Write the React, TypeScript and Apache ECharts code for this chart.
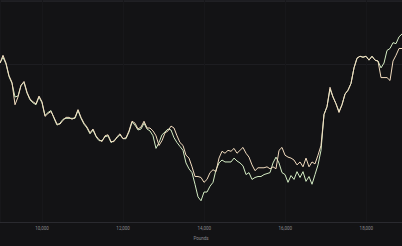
import React, { useEffect, useRef } from "react";
import * as echarts from "echarts";

const ROUND_START = 8963;
const ROUND_STEP = 74;
const X_TICKS = [10000, 12000, 14000, 16000, 18000];
const AXIS_NAME = "Pounds";

// upper (orange-tinted) series
const seriesA = [
  164, 172, 164, 151, 144, 121, 129, 141, 145, 134, 127, 124, 122, 130, 124, 109, 112, 114, 108, 101,
  101, 105, 108, 108, 106, 108, 116, 108, 102, 98, 92, 96, 89, 85, 83, 89, 90, 83, 83, 88,
  91, 86, 87, 94, 104, 102, 96, 98, 104, 97, 97, 94, 89, 79, 84, 92, 94, 99, 97, 89,
  82, 79, 69, 66, 57, 47, 47, 46, 41, 44, 51, 54, 52, 66, 73, 71, 74, 73, 76, 71,
  74, 77, 71, 67, 59, 53, 56, 56, 56, 57, 55, 57, 55, 74, 77, 69, 67, 66, 64, 59,
  62, 57, 66, 57, 62, 60, 69, 79, 111, 119, 139, 129, 122, 113, 121, 132, 136, 143, 159, 169,
  171, 170, 171, 167, 171, 167, 166, 149, 149, 149, 146, 166, 172, 179, 179
];

// lower (green-tinted) series
const seriesB = [
  164, 170, 163, 150, 143, 129, 130, 141, 144, 133, 126, 123, 121, 129, 123, 110, 113, 115, 107, 100,
  102, 106, 107, 107, 107, 107, 115, 107, 101, 97, 91, 95, 88, 84, 84, 88, 89, 82, 84, 87,
  90, 86, 86, 93, 103, 100, 95, 96, 102, 96, 94, 89, 76, 82, 90, 93, 96, 95, 87, 82,
  78, 74, 61, 55, 51, 39, 26, 22, 31, 31, 37, 41, 54, 61, 64, 62, 62, 62, 66, 63,
  61, 58, 49, 51, 44, 46, 47, 47, 49, 50, 51, 61, 67, 61, 51, 49, 41, 48, 44, 52,
  46, 52, 42, 47, 39, 49, 59, 74, 111, 119, 137, 129, 122, 114, 121, 132, 136, 143, 159, 169,
  171, 170, 171, 167, 171, 167, 166, 159, 164, 177, 179, 185, 184, 191, 194
];

export default function App() {
  const ref = useRef<HTMLDivElement>(null);
  useEffect(() => {
    if (!ref.current) return;
    const chart = echarts.init(ref.current, null, { renderer: "svg" });
    const toPairs = (arr: number[]) => arr.map((v, i) => [ROUND_START + i * ROUND_STEP, v]);
    const xMax = ROUND_START + (seriesA.length - 1) * ROUND_STEP;
    chart.setOption({
      animation: false,
      backgroundColor: "#131315",
      graphic: [
        { type: "rect", left: 0, top: 0, shape: { width: 402, height: 2 }, style: { fill: "#202024" }, silent: true },
      ],
      grid: { left: 0, right: 0, top: 0, bottom: 17, containLabel: false },
      xAxis: {
        type: "value",
        min: ROUND_START,
        max: xMax,
        name: AXIS_NAME,
        nameLocation: "middle",
        nameGap: 11,
        nameTextStyle: { color: "#8a8a8e", fontSize: 4.5, fontFamily: "Roboto" },
        axisLine: { show: true, lineStyle: { color: "#2a2a2f", width: 1 } },
        axisTick: { show: false },
        axisLabel: {
          color: "#8a8a8e",
          fontSize: 4.5,
          fontFamily: "Roboto",
          margin: 4,
          showMinLabel: false,
          showMaxLabel: false,
          formatter: (v: number) => (X_TICKS.includes(v) ? v.toLocaleString("en-US") : ""),
        },
        splitLine: { show: true, lineStyle: { color: "#17171a", width: 1 } },
      },
      yAxis: {
        type: "value",
        min: 0,
        max: 229,
        interval: 163,
        axisLine: { show: false },
        axisTick: { show: false },
        axisLabel: { show: false },
        splitLine: { show: true, lineStyle: { color: "#1d1d21", width: 1 } },
      },
      series: [
        {
          type: "line",
          data: toPairs(seriesB),
          showSymbol: false,
          lineStyle: { color: "#d4ecc4", width: 1 },
          z: 2,
        },
        {
          type: "line",
          data: toPairs(seriesA),
          showSymbol: false,
          lineStyle: { color: "#f2dcbf", width: 1 },
          z: 3,
        },
      ],
    });
    return () => chart.dispose();
  }, []);
  return <div ref={ref} style={{ width: 402, height: 246, position: "absolute", left: 0, top: 0 }} />;
}
